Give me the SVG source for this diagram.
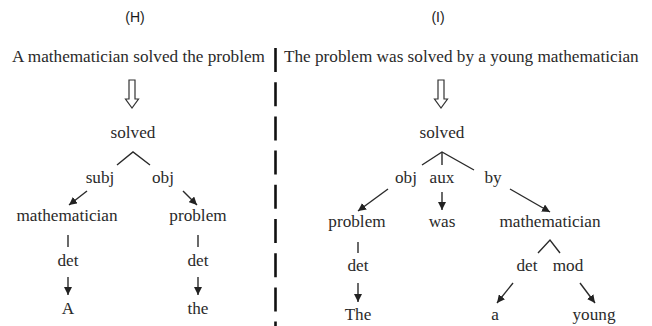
<svg xmlns="http://www.w3.org/2000/svg" width="652" height="326" viewBox="0 0 652 326">
<defs>
<marker id="ah" markerUnits="userSpaceOnUse" markerWidth="9" markerHeight="8" refX="8" refY="4" orient="auto">
<path d="M0,0 L8,4 L0,8 z" fill="#222"/>
</marker>
<style>
text{font-family:"Liberation Serif","Times New Roman",serif;font-size:17.2px;fill:#2a2a2a;text-anchor:middle}
.lbl{font-family:"Liberation Sans",Arial,sans-serif;font-size:14px;fill:#1a1a1a}
.st{text-anchor:start}
.ln{stroke:#2a2a2a;stroke-width:1.4;fill:none}
.arr{stroke:#2a2a2a;stroke-width:1.4;fill:none;marker-end:url(#ah)}
.hollow{fill:#fff;stroke:#333;stroke-width:1.2}
</style>
</defs>
<rect width="652" height="326" fill="#fff"/>
<g id="titles">
<text class="lbl" x="135" y="22">(H)</text>
<text class="lbl" x="438" y="22">(I)</text>
</g>
<g id="sentences">
<text class="st" x="12" y="62">A mathematician solved the problem</text>
<text class="st" x="284" y="62">The problem was solved by a young mathematician</text>
</g>
<g id="divider">
<line x1="275.5" y1="48" x2="275.5" y2="326" stroke="#111" stroke-width="2.6" stroke-dasharray="24 10.2"/>
</g>
<g id="bigarrows">
<path class="hollow" d="M129,80 L135,80 L135,99 L138.5,99 L132,108 L125.5,99 L129,99 Z"/>
<path class="hollow" d="M438,80 L444,80 L444,99 L447.5,99 L441,108 L434.5,99 L438,99 Z"/>
</g>
<g id="connectors">
<polyline class="ln" points="117,165 133,152 150,165"/>
<line class="arr" x1="87" y1="191" x2="69" y2="205"/>
<line class="arr" x1="183" y1="191" x2="197" y2="205"/>
<line class="ln" x1="68" y1="235" x2="68" y2="247"/>
<line class="arr" x1="68" y1="277" x2="68" y2="295"/>
<line class="ln" x1="198" y1="235" x2="198" y2="247"/>
<line class="arr" x1="198" y1="277" x2="198" y2="295"/>
<polyline class="ln" points="422,165 442,152 474,170"/>
<line class="ln" x1="442" y1="152" x2="442" y2="165"/>
<line class="arr" x1="388" y1="189" x2="358" y2="211"/>
<line class="arr" x1="442" y1="192" x2="442" y2="210"/>
<line class="arr" x1="510" y1="189" x2="550" y2="212"/>
<line class="ln" x1="358" y1="242" x2="358" y2="253"/>
<line class="arr" x1="358" y1="283" x2="358" y2="302"/>
<polyline class="ln" points="538,253 550,240 560,253"/>
<line class="arr" x1="513" y1="283" x2="497" y2="303"/>
<line class="arr" x1="580" y1="283" x2="595" y2="303"/>
</g>
<g id="H-solved"><text x="133" y="138">solved</text></g>
<g id="H-subj"><text x="100" y="183">subj</text></g>
<g id="H-obj"><text x="163" y="183">obj</text></g>
<g id="H-mathematician"><text x="67" y="221">mathematician</text></g>
<g id="H-problem"><text x="198" y="221">problem</text></g>
<g id="H-det1"><text x="68" y="266">det</text></g>
<g id="H-det2"><text x="198" y="266">det</text></g>
<g id="H-A"><text x="68" y="314">A</text></g>
<g id="H-the"><text x="198" y="314">the</text></g>
<g id="I-solved"><text x="442" y="138">solved</text></g>
<g id="I-obj"><text x="406" y="183">obj</text></g>
<g id="I-aux"><text x="442" y="183">aux</text></g>
<g id="I-by"><text x="493" y="183">by</text></g>
<g id="I-problem"><text x="357" y="227">problem</text></g>
<g id="I-was"><text x="442" y="227">was</text></g>
<g id="I-mathematician"><text x="550" y="227">mathematician</text></g>
<g id="I-det1"><text x="358" y="271">det</text></g>
<g id="I-det2"><text x="527" y="271">det</text></g>
<g id="I-mod"><text x="568" y="271">mod</text></g>
<g id="I-The"><text x="358" y="320">The</text></g>
<g id="I-a"><text x="495" y="320">a</text></g>
<g id="I-young"><text x="594" y="320">young</text></g>
</svg>
